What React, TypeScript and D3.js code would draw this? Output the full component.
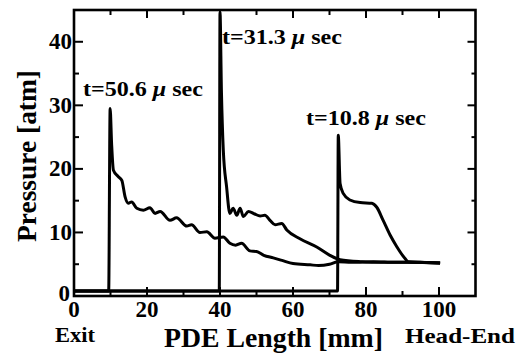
import React from "react";
import * as d3 from "d3";

// t = 50.6 μs
const sA_x = [0, 9.5, 9.9, 10.3, 10.8, 12.1, 13.1, 14.0, 14.9, 15.8, 17.2, 19.0, 20.8, 22.2, 23.6, 26.3, 28.1, 30.9, 32.2, 34.5, 36.4, 38.6, 40.9, 42.7, 44.3, 45.9, 48.2, 50.0, 52.0, 54.6, 57.0, 60.0, 64.7, 67.0, 70.0, 72.4, 76.0, 82.0, 88.0, 94.0, 100.3];
const sA_y = [0.8, 0.8, 29.5, 24.0, 19.8, 18.8, 18.2, 15.6, 14.6, 14.8, 13.8, 13.5, 13.9, 13.0, 13.3, 11.9, 12.3, 11.0, 11.2, 10.0, 10.1, 9.1, 9.3, 8.3, 8.0, 8.3, 7.1, 7.0, 6.4, 6.0, 5.6, 5.1, 4.9, 4.8, 5.0, 5.4, 5.3, 5.4, 5.3, 5.3, 5.2];

// t = 31.3 μs
const sB_x = [0, 39.8, 40.0, 40.4, 40.9, 41.8, 42.7, 43.6, 44.6, 45.5, 46.4, 47.8, 49.5, 51.0, 52.3, 53.7, 55.1, 56.9, 58.3, 61.9, 66.5, 70.1, 72.9, 78.4, 85.0, 92.0, 100.3];
const sB_y = [0.8, 0.8, 44.7, 32.0, 23.0, 17.2, 13.0, 13.8, 12.7, 13.8, 12.5, 13.3, 12.9, 12.6, 12.7, 11.9, 11.2, 11.4, 10.4, 9.0, 7.7, 6.4, 5.7, 5.4, 5.3, 5.3, 5.2];

// t = 10.8 μs
const sC_x = [0, 72.2, 72.4, 72.9, 73.8, 75.6, 78.4, 81.6, 82.9, 84.7, 86.6, 88.4, 90.7, 91.6, 95.0, 100.3];
const sC_y = [0.8, 0.8, 25.3, 17.7, 16.1, 15.1, 14.7, 14.6, 14.0, 11.9, 9.6, 7.8, 5.9, 5.4, 5.3, 5.2];

const xTickLabels = [0, 20, 40, 60, 80, 100];
const yTickLabels = [0, 10, 20, 30, 40];
const xMinorTicks = [10, 30, 50, 70, 90];
const xMajorTicks = [20, 40, 60, 80, 100];
const yMajorTicks = [10, 20, 30, 40];
const yMinorTicks = [5, 15, 25, 35];

const annotationLabels = ["t=50.6", "t=31.3", "t=10.8"];

const W = 520, H = 354;
const L = 74, R = 475.5, T = 10, B = 296;
const FONT = '"Liberation Serif", "Times New Roman", Tinos, "DejaVu Serif", serif';

export default function App() {
  const x = d3.scaleLinear().domain([0, 110]).range([L, R]);
  const y = d3.scaleLinear().domain([0, 45]).range([B, T]);
  const line = d3
    .line<[number, number]>()
    .x((d) => x(d[0]))
    .y((d) => y(d[1]))
    .curve(d3.curveMonotoneX);
  const series = [
    sA_x.map((v, i) => [v, sA_y[i]] as [number, number]),
    sB_x.map((v, i) => [v, sB_y[i]] as [number, number]),
    sC_x.map((v, i) => [v, sC_y[i]] as [number, number]),
  ];
  const ts: React.CSSProperties = { fontFamily: FONT, fontWeight: "bold" };
  const annPos = [
    { x: 83, y: 96 },
    { x: 222, y: 44 },
    { x: 306, y: 125 },
  ];
  return (
    <svg
      width={W}
      height={H}
      style={{ position: "absolute", left: 0, top: 0, background: "#fff", fontFamily: FONT }}
    >
      {/* data */}
      {series.map((s, i) => (
        <path key={i} d={line(s) || ""} fill="none" stroke="#000" strokeWidth={3} strokeLinejoin="round" />
      ))}
      {/* frame */}
      <rect x={L} y={T} width={R - L} height={B - T} fill="none" stroke="#000" strokeWidth={2.6} />
      {/* ticks */}
      {xMajorTicks.map((v) => (
        <g key={"xM" + v}>
          <line x1={x(v)} x2={x(v)} y1={B} y2={B - 9} stroke="#000" strokeWidth={2} />
          <line x1={x(v)} x2={x(v)} y1={T} y2={T + 8} stroke="#000" strokeWidth={2} />
        </g>
      ))}
      {xMinorTicks.map((v) => (
        <g key={"xm" + v}>
          <line x1={x(v)} x2={x(v)} y1={B} y2={B - 5} stroke="#000" strokeWidth={2} />
          <line x1={x(v)} x2={x(v)} y1={T} y2={T + 5} stroke="#000" strokeWidth={2} />
        </g>
      ))}
      {yMajorTicks.map((v) => (
        <g key={"yM" + v}>
          <line x1={L} x2={L + 9} y1={y(v)} y2={y(v)} stroke="#000" strokeWidth={2} />
          <line x1={R} x2={R - 8} y1={y(v)} y2={y(v)} stroke="#000" strokeWidth={2} />
        </g>
      ))}
      {yMinorTicks.map((v) => (
        <g key={"ym" + v}>
          <line x1={L} x2={L + 5} y1={y(v)} y2={y(v)} stroke="#000" strokeWidth={2} />
          <line x1={R} x2={R - 4} y1={y(v)} y2={y(v)} stroke="#000" strokeWidth={2} />
        </g>
      ))}
      {/* tick labels */}
      {xTickLabels.map((v) => (
        <text key={"xl" + v} x={x(v)} y={317} textAnchor="middle" fontSize={23} style={ts}>
          {v}
        </text>
      ))}
      {yTickLabels.map((v) => (
        <text
          key={"yl" + v}
          x={v === 0 ? 70 : 72}
          y={y(v) - (v === 0 ? 3 : 0)}
          dy="0.33em"
          textAnchor="end"
          fontSize={23}
          style={ts}
        >
          {v}
        </text>
      ))}
      {/* annotations */}
      {annotationLabels.map((a, i) => (
        <text
          key={"an" + i}
          x={annPos[i].x}
          y={annPos[i].y}
          fontSize={20}
          textLength={120}
          lengthAdjust="spacingAndGlyphs"
          style={ts}
        >
          {a + " "}
          <tspan fontStyle="italic">μ</tspan>
          {" sec"}
        </text>
      ))}
      {/* axis titles */}
      <text x={164} y={347} fontSize={28} textLength={219} lengthAdjust="spacingAndGlyphs" style={ts}>
        PDE Length [mm]
      </text>
      <text x={55} y={342} fontSize={21} textLength={40} lengthAdjust="spacingAndGlyphs" style={ts}>
        Exit
      </text>
      <text x={405} y={343} fontSize={21} textLength={110} lengthAdjust="spacingAndGlyphs" style={ts}>
        Head-End
      </text>
      <text
        transform="translate(36,156) rotate(-90)"
        textAnchor="middle"
        fontSize={28}
        textLength={172}
        lengthAdjust="spacingAndGlyphs"
        style={ts}
      >
        Pressure [atm]
      </text>
    </svg>
  );
}
